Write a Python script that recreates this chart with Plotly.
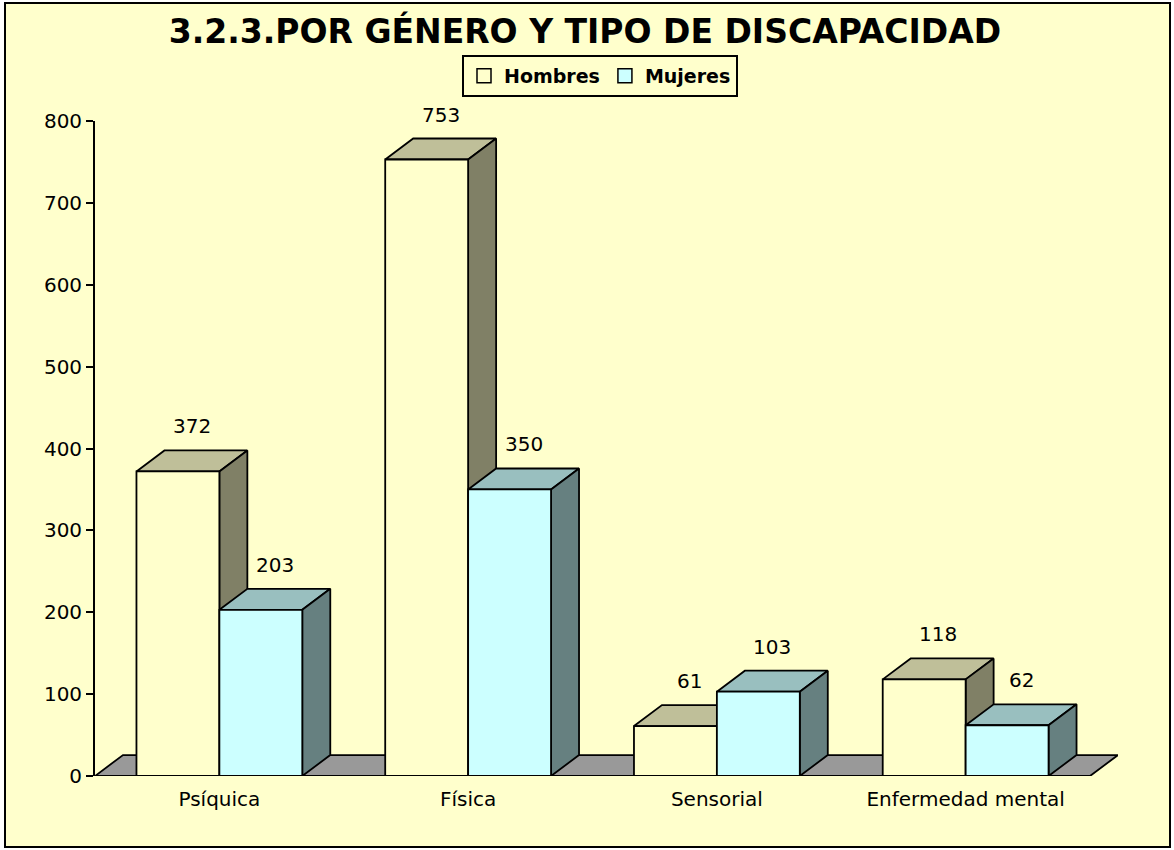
import plotly.graph_objects as go

# ---- data ----
categories = ["Psíquica", "Física", "Sensorial", "Enfermedad mental"]
hombres = [372, 753, 61, 118]
mujeres = [203, 350, 103, 62]
series_names = ["Hombres", "Mujeres"]
y_ticks = [0, 100, 200, 300, 400, 500, 600, 700, 800]

# ---- style ----
BG = "#FFFFCC"
FONT = "DejaVu Sans, Verdana, sans-serif"
DX = 0.1125   # depth offset, category units
DY = 25.6     # depth offset, value units
BW = 1 / 3    # bar width
colors = {
    "Hombres": ("#FFFFCC", "#BFBF99", "#808066"),
    "Mujeres": ("#CCFFFF", "#99BFBF", "#668080"),
}

W, H = 1174, 850
L, R, T, B = 95, 56, 121, 74

fig = go.Figure()


def poly_trace(polys, color, width=1.8):
    xs, ys = [], []
    for p in polys:
        for (x, y) in p:
            xs.append(x)
            ys.append(y)
        xs.append(p[0][0]); ys.append(p[0][1])
        xs.append(None); ys.append(None)
    return go.Scatter(x=xs, y=ys, mode="lines", fill="toself", fillcolor=color,
                      line=dict(color="black", width=width), hoverinfo="skip",
                      showlegend=False, cliponaxis=False, connectgaps=False)


# floor
x_lo, x_hi = -0.5, len(categories) - 0.5
fig.add_trace(poly_trace([[(x_lo, 0), (x_hi, 0), (x_hi + DX, DY), (x_lo + DX, DY)]], "#999999"))

for s_idx, (name, vals) in enumerate(zip(series_names, [hombres, mujeres])):
    front_c, top_c, side_c = colors[name]
    tops, sides, fronts = [], [], []
    for i, v in enumerate(vals):
        x0 = i - BW + s_idx * BW
        x1 = x0 + BW
        fronts.append([(x0, 0), (x1, 0), (x1, v), (x0, v)])
        tops.append([(x0, v), (x1, v), (x1 + DX, v + DY), (x0 + DX, v + DY)])
        sides.append([(x1, 0), (x1 + DX, DY), (x1 + DX, v + DY), (x1, v)])
        fig.add_annotation(x=(x0 + x1) / 2 + DX / 2, y=v + DY, text=str(v),
                           showarrow=False, yshift=24, yanchor="middle",
                           font=dict(family=FONT, size=20, color="black"))
    fig.add_trace(poly_trace(tops, top_c))
    fig.add_trace(poly_trace(sides, side_c))
    fig.add_trace(poly_trace(fronts, front_c))

# legend entries
for name in series_names:
    fig.add_trace(go.Scatter(x=[None], y=[None], mode="markers", name=name,
                             marker=dict(symbol="square", size=14, color=colors[name][0],
                                         line=dict(color="black", width=1.5))))

ph = H - T - B
pw = W - L - R


def px_x(p):
    return (p - L) / pw


def px_y(p):
    return (H - B - p) / ph


fig.add_shape(type="rect", xref="paper", yref="paper",
              x0=px_x(5), x1=px_x(1170), y0=px_y(847), y1=px_y(3),
              fillcolor=BG, line=dict(color="black", width=2), layer="below")

fig.update_layout(
    width=W, height=H,
    margin=dict(l=L, r=R, t=T, b=B, autoexpand=False),
    paper_bgcolor="white", plot_bgcolor="rgba(0,0,0,0)",
    title=dict(text="<b>3.2.3.POR GÉNERO Y TIPO DE DISCAPACIDAD</b>", x=px_x(585), xanchor="center",
               xref="paper", y=1 - 31 / H, yanchor="middle",
               font=dict(family=FONT, size=33, color="black")),
    legend=dict(orientation="h", x=px_x(600), xanchor="center", y=px_y(55), yanchor="top",
                bgcolor="rgba(0,0,0,0)", bordercolor="black", borderwidth=2,
                font=dict(family=FONT, size=19, color="black", weight="bold"),
                itemwidth=30, traceorder="normal"),
    showlegend=True,
    xaxis=dict(range=[x_lo, x_hi + DX], tickvals=list(range(len(categories))), ticktext=categories,
               showgrid=False, zeroline=False, showline=False, ticks="outside", ticklen=5,
               tickcolor="rgba(0,0,0,0)",
               tickfont=dict(family=FONT, size=20, color="black"), fixedrange=True),
    yaxis=dict(range=[0, 800], tickvals=y_ticks, showgrid=False, zeroline=False,
               showline=True, linecolor="black", linewidth=1.8, ticks="outside", ticklen=7,
               tickcolor="black", tickwidth=1.5,
               tickfont=dict(family=FONT, size=20, color="black"), fixedrange=True),
)

fig.write_html("out.html", config={"displayModeBar": False},
               post_script="document.body.style.margin='0';")
